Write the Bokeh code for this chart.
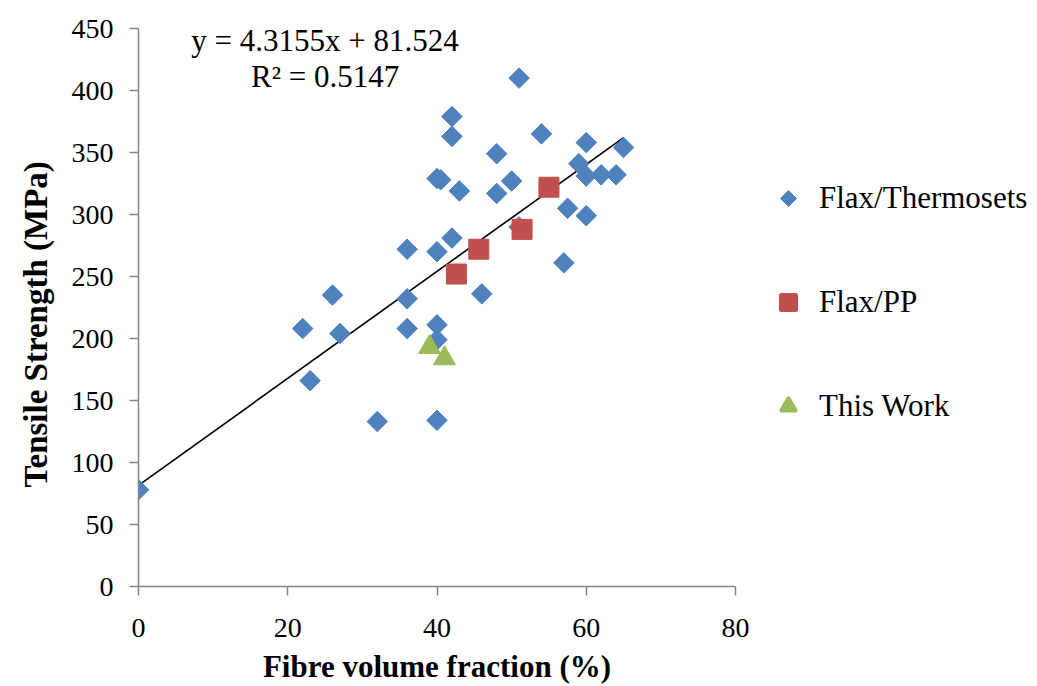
import math
from bokeh.plotting import figure
from bokeh.layouts import row
from bokeh.models import Range1d, FixedTicker, Legend, LegendItem, Label, Title, ColumnDataSource
from bokeh.embed import file_html
from bokeh.resources import INLINE

# ---- data ----
thermo_x = [0, 22, 23, 26, 27, 32, 36, 36, 36, 40, 40, 40, 40, 40, 40.5,
            42, 42, 42, 43, 46, 48, 48, 50, 51, 51, 54, 57, 57.5, 59,
            60, 60, 60, 62, 64, 65]
thermo_y = [78, 208, 166, 235, 204, 133, 272, 232, 208, 134, 211, 199, 270, 329, 328,
            379, 363, 281, 319, 236, 317, 349, 327, 410, 290, 365, 261, 305, 341,
            358, 331, 299, 332, 332, 354]
pp_x = [42.6, 45.6, 51.4, 55.0]
pp_y = [252, 272, 288, 322]
work_x = [39.0, 41.0]
work_y = [193, 184]

slope = 4.3155
intercept = 81.524
eq_text = "y = 4.3155x + 81.524"
r2_text = "R² = 0.5147"

x_ticks = [0, 20, 40, 60, 80]
y_ticks = [0, 50, 100, 150, 200, 250, 300, 350, 400, 450]

series_names = ["Flax/Thermosets", "Flax/PP", "This Work"]
x_title = "Fibre volume fraction (%)"
y_title = "Tensile Strength (MPa)"

FONT = "Liberation Serif"
AXIS_COLOR = "#868686"
BLUE, RED, GREEN = "#4F81BD", "#C0504D", "#9BBB59"
H = 686
W_MAIN = 755

p = figure(width=W_MAIN, height=H, output_backend="svg", toolbar_location=None,
           x_range=Range1d(0, 80), y_range=Range1d(0, 450),
           min_border_left=137, min_border_right=20,
           min_border_top=28, min_border_bottom=H - 587)

p.outline_line_color = None
p.xgrid.visible = False
p.ygrid.visible = False

for ax in (p.xaxis[0], p.yaxis[0]):
    ax.axis_line_color = AXIS_COLOR
    ax.axis_line_width = 1.5
    ax.major_tick_line_color = AXIS_COLOR
    ax.major_tick_line_width = 1.5
    ax.major_tick_in = 0
    ax.major_tick_out = 9
    ax.minor_tick_line_color = None
    ax.major_label_text_font = FONT
    ax.major_label_text_font_size = "28px"
    ax.major_label_text_color = "black"
    ax.axis_label_text_font = FONT
    ax.axis_label_text_font_size = "31px"
    ax.axis_label_text_font_style = "bold"
    ax.axis_label_text_color = "black"

p.xaxis[0].ticker = FixedTicker(ticks=x_ticks)
p.yaxis[0].ticker = FixedTicker(ticks=y_ticks)
p.xaxis[0].axis_label = x_title
p.xaxis[0].major_label_standoff = 23
p.yaxis[0].major_label_standoff = 16
p.xaxis[0].axis_label_standoff = 9

p.add_layout(Title(text=y_title, align="left", offset=99, standoff=30,
                   text_font=FONT, text_font_size="33px", text_font_style="bold",
                   text_color="black"), "left")

# trend line
x_end = max(thermo_x)
p.line([0, x_end], [intercept, intercept + slope * x_end], line_color="black", line_width=1.6)

p.scatter(thermo_x, thermo_y, marker="square", size=14.5, angle=math.pi / 4,
          fill_color=BLUE, line_color=BLUE)
p.scatter(pp_x, pp_y, marker="square", size=20, fill_color=RED, line_color=RED)
p.scatter(work_x, work_y, marker="triangle", size=22, fill_color=GREEN, line_color=GREEN)

for txt, yy in ((eq_text, 440), (r2_text, 411)):
    p.add_layout(Label(x=25, y=yy, text=txt, text_align="center", text_baseline="alphabetic",
                       text_font=FONT, text_font_size="31px", text_color="black"))

# legend panel to the right of the plot
q = figure(width=1037 - W_MAIN, height=H, output_backend="svg", toolbar_location=None,
           x_range=Range1d(0, 1), y_range=Range1d(0, 1),
           x_axis_location=None, y_axis_location=None,
           min_border=0, min_border_left=0, min_border_right=0,
           min_border_top=0, min_border_bottom=0)
q.outline_line_color = None
q.xgrid.visible = False
q.ygrid.visible = False

# legend swatches (one point each, placed outside the visible range)
try:
    from bokeh.models import Ngon
    src = ColumnDataSource(dict(x=[-5], y=[-5]))
    l1 = q.add_glyph(src, Ngon(x="x", y="y", radius=0.01, n=4, angle=0,
                               fill_color=BLUE, line_color=BLUE))
except Exception:
    l1 = q.scatter([-5], [-5], marker="diamond", fill_color=BLUE, line_color=BLUE, line_width=3)
l2 = q.scatter([-5], [-5], marker="square", fill_color=RED, line_color=RED, line_width=3)
l3 = q.scatter([-5], [-5], marker="triangle", fill_color=GREEN, line_color=GREEN, line_width=3)

legend = Legend(items=[LegendItem(label=series_names[0], renderers=[l1]),
                       LegendItem(label=series_names[1], renderers=[l2]),
                       LegendItem(label=series_names[2], renderers=[l3])],
                location=(13, 160), orientation="vertical",
                label_text_font=FONT, label_text_font_size="31px", label_text_color="black",
                glyph_width=40, glyph_height=40, label_height=40,
                spacing=64, label_standoff=11, padding=0, margin=0,
                border_line_color=None, background_fill_color=None)
q.add_layout(legend, "center")

layout = row(p, q)
open("out.html", "w").write(file_html(layout, INLINE))
